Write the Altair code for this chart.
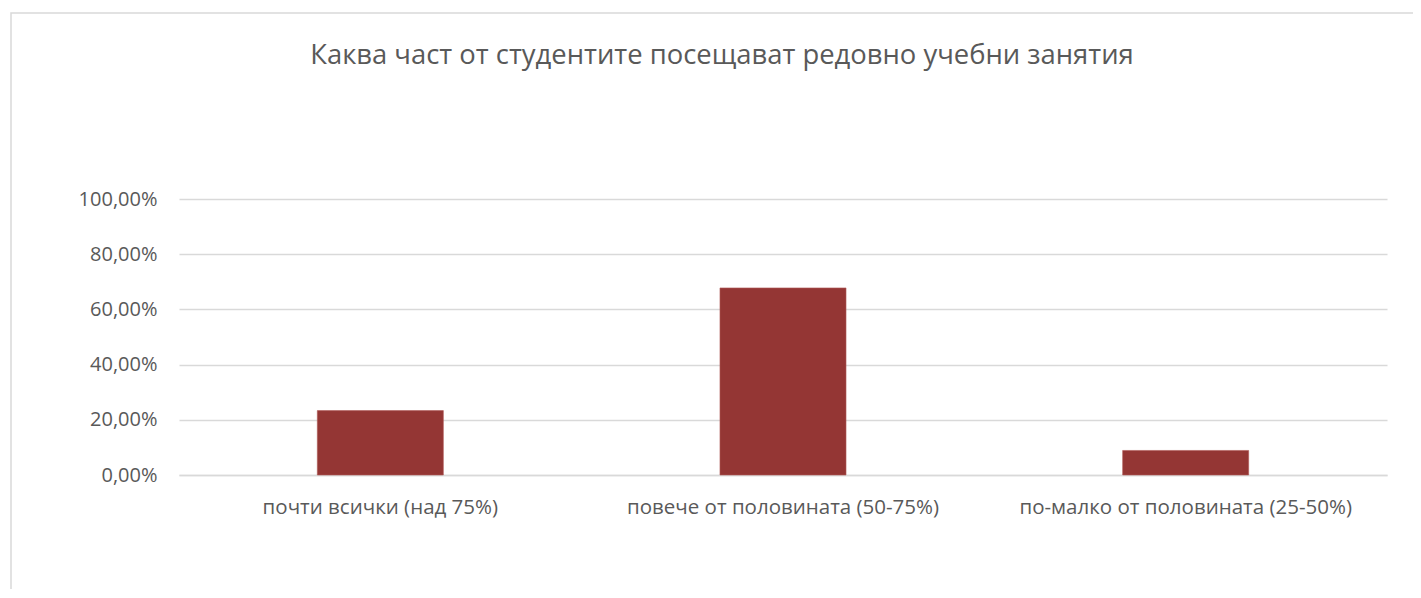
import altair as alt
import pandas as pd

categories = ["почти всички (над 75%)", "повече от половината (50-75%)", "по-малко от половината (25-50%)"]
values = [0.2333, 0.6778, 0.0889]
y_ticks = [0, 0.2, 0.4, 0.6, 0.8, 1.0]
title_text = "Каква част от студентите посещават редовно учебни занятия"

df = pd.DataFrame({"cat": categories, "val": values})

FONT = "Open Sans"
GRAY = "#595959"

bars = alt.Chart(df).mark_bar(color="#943634", stroke="#B05A58", strokeWidth=0.6).encode(
    x=alt.X("cat:N", sort=categories, title=None,
            scale=alt.Scale(paddingInner=0.687, paddingOuter=0.3435),
            axis=alt.Axis(labelAngle=0, labelFont=FONT, labelFontSize=20.5, labelColor=GRAY,
                          ticks=False, domain=True, domainColor="#D9D9D9", domainWidth=1.5,
                          labelPadding=22, labelLimit=0, grid=False)),
    y=alt.Y("val:Q", title=None,
            scale=alt.Scale(domain=[0, 1], nice=False),
            axis=alt.Axis(values=y_ticks, labelExpr="replace(format(datum.value, '.2%'), '.', ',')",
                          labelFont=FONT, labelFontSize=20, labelColor=GRAY, ticks=False,
                          domain=False, gridColor="#D9D9D9", gridWidth=1.5, labelPadding=22)),
)

frame = alt.Chart(pd.DataFrame({"a": [0]})).mark_rect(
    fill=None, stroke="#D9D9D9", strokeWidth=1.5
).encode(
    x=alt.value(-168), x2=alt.value(1260), y=alt.value(-186), y2=alt.value(440)
)

chart = alt.layer(frame, bars).properties(
    width=1208, height=276,
    padding={"left": 171, "top": 191, "right": 26, "bottom": 114},
    autosize=alt.AutoSizeParams(type="none"),
    title=alt.TitleParams(title_text, anchor="middle", font=FONT, fontSize=27.4,
                          fontWeight="normal", color=GRAY, offset=-79, dx=-61,
                          baseline="alphabetic"),
).configure_view(stroke=None)

chart.save("out.html", embed_options={"renderer": "svg", "actions": False})
